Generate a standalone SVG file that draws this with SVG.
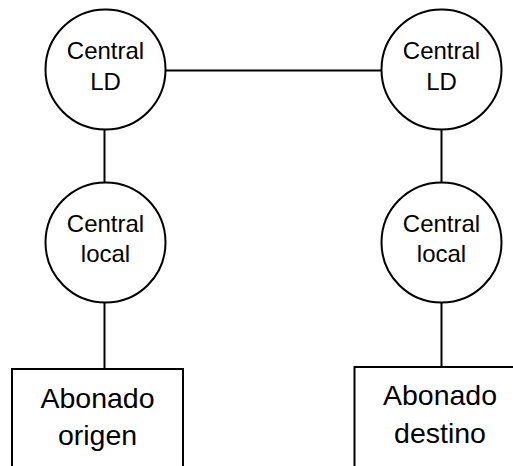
<svg xmlns="http://www.w3.org/2000/svg" width="513" height="466" viewBox="0 0 513 466">
<style>
.n{fill:#fff;stroke:#000;stroke-width:2}
.c{fill:none;stroke:#000;stroke-width:2}
.t{font-family:"Liberation Sans",Arial,sans-serif;font-size:24px;text-anchor:middle;fill:#000}
.b{font-family:"Liberation Sans",Arial,sans-serif;font-size:28.5px;text-anchor:middle;fill:#000}
</style>
<rect width="513" height="466" fill="#fff"/>
<g id="connectors">
<line class="c" x1="165.5" y1="70.5" x2="381.5" y2="70.5"/>
<line class="c" x1="104.5" y1="129.5" x2="104.5" y2="182.5"/>
<line class="c" x1="104.5" y1="302.5" x2="104.5" y2="369"/>
<line class="c" x1="441.5" y1="129.5" x2="441.5" y2="182.5"/>
<line class="c" x1="441.5" y1="302.5" x2="441.5" y2="367"/>
</g>
<g id="ld-left">
<circle class="n" cx="105.5" cy="69.5" r="60"/>
<text class="t" x="105.5" y="58.5">Central</text>
<text class="t" x="105.5" y="90">LD</text>
</g>
<g id="ld-right">
<circle class="n" cx="441.5" cy="69.5" r="60"/>
<text class="t" x="441.5" y="58.5">Central</text>
<text class="t" x="441.5" y="90">LD</text>
</g>
<g id="local-left">
<circle class="n" cx="105.5" cy="242.5" r="60"/>
<text class="t" x="105.5" y="231.5">Central</text>
<text class="t" x="105.5" y="262">local</text>
</g>
<g id="local-right">
<circle class="n" cx="441.5" cy="242.5" r="60"/>
<text class="t" x="441.5" y="231.5">Central</text>
<text class="t" x="441.5" y="262">local</text>
</g>
<g id="abonado-origen">
<rect class="n" x="12" y="369" width="171" height="110"/>
<text class="b" x="97.5" y="408">Abonado</text>
<text class="b" x="97.5" y="445">origen</text>
</g>
<g id="abonado-destino">
<rect class="n" x="354.5" y="367" width="171" height="110"/>
<text class="b" x="440" y="405">Abonado</text>
<text class="b" x="440" y="443">destino</text>
</g>
</svg>
